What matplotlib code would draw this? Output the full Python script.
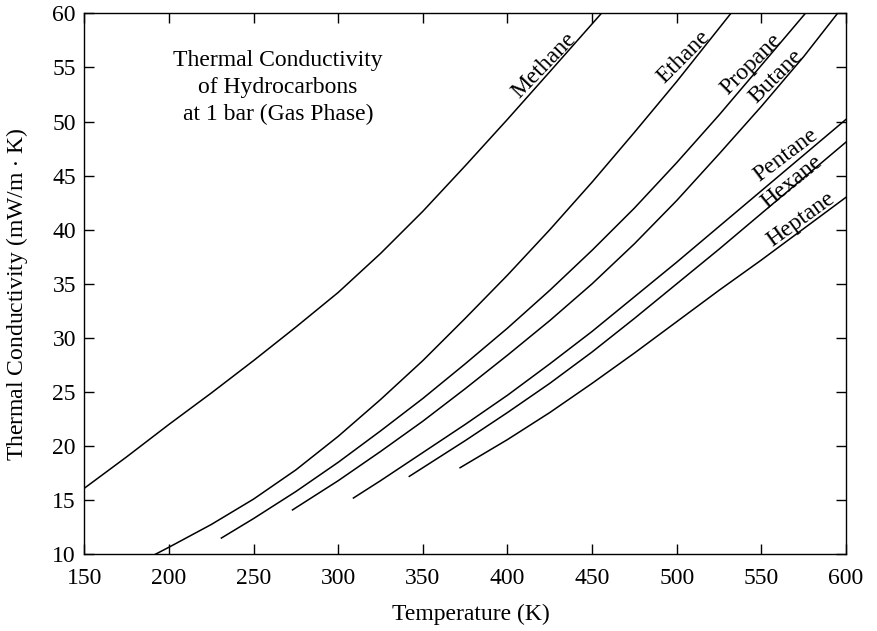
import matplotlib
matplotlib.use("Agg")
import matplotlib.pyplot as plt
import numpy as np

plt.rcParams['font.family'] = ['Liberation Serif', 'DejaVu Serif']
plt.rcParams['mathtext.fontset'] = 'stix'

# thermal conductivity (mW/m.K) vs temperature (K)
methane_T = [150, 175, 200, 225, 250, 275, 300, 325, 350, 375, 400, 425, 455.5]
methane_k = [16.1, 19.0, 22.0, 24.9, 27.9, 31.0, 34.2, 37.8, 41.7, 45.9, 50.2, 54.6, 60.0]

ethane_T = [192, 200, 225, 250, 275, 300, 325, 350, 375, 400, 425, 450, 475, 500, 532]
ethane_k = [10.0, 10.65, 12.75, 15.1, 17.8, 20.9, 24.3, 27.9, 31.8, 35.8, 40.0, 44.4, 49.0, 53.7, 60.0]

propane_T = [231, 250, 275, 300, 325, 350, 375, 400, 425, 450, 475, 500, 525, 550, 576]
propane_k = [11.5, 13.3, 15.8, 18.5, 21.4, 24.4, 27.6, 30.9, 34.4, 38.1, 42.0, 46.2, 50.6, 55.2, 60.0]

butane_T = [273, 300, 325, 350, 375, 400, 425, 450, 475, 500, 525, 550, 575, 595]
butane_k = [14.1, 16.8, 19.5, 22.3, 25.3, 28.4, 31.6, 35.0, 38.7, 42.7, 47.0, 51.4, 56.0, 60.0]

pentane_T = [309, 325, 350, 375, 400, 425, 450, 475, 500, 525, 550, 575, 600]
pentane_k = [15.2, 16.8, 19.4, 22.0, 24.7, 27.6, 30.6, 33.8, 37.0, 40.3, 43.6, 46.9, 50.2]

hexane_T = [342, 350, 375, 400, 425, 450, 475, 500, 525, 550, 575, 600]
hexane_k = [17.2, 18.0, 20.5, 23.1, 25.8, 28.7, 31.8, 35.0, 38.2, 41.5, 44.8, 48.1]

heptane_T = [372, 400, 425, 450, 475, 500, 525, 550, 575, 600]
heptane_k = [18.0, 20.6, 23.1, 25.8, 28.6, 31.5, 34.4, 37.2, 40.1, 43.0]

names = ['Methane', 'Ethane', 'Propane', 'Butane', 'Pentane', 'Hexane', 'Heptane']
curves = [(methane_T, methane_k), (ethane_T, ethane_k), (propane_T, propane_k),
          (butane_T, butane_k), (pentane_T, pentane_k), (hexane_T, hexane_k),
          (heptane_T, heptane_k)]
# label placement (T, k, angle)
label_pos = [(421.5, 55.2, 46), (503.9, 56.0, 45), (544.2, 55.3, 45), (558.4, 54.2, 45),
             (564.3, 46.9, 37), (567.8, 44.4, 39), (573.1, 40.95, 36)]

fig = plt.figure(figsize=(8.77, 6.31), dpi=100)
ax = fig.add_axes([0.0961, 0.1216, 0.8686, 0.8573])

for (T, k), name, (lx, ly, ang) in zip(curves, names, label_pos):
    ax.plot(T, k, color='black', lw=1.1)
    ax.text(lx, ly, name, rotation=ang, rotation_mode='anchor',
            ha='center', va='center', fontsize=17)

ax.text(264.4, 53.1, 'Thermal Conductivity\nof Hydrocarbons\nat 1 bar (Gas Phase)',
        ha='center', va='center', fontsize=17, linespacing=1.37)

ax.set_xlim(150, 600)
ax.set_ylim(10, 60)
ax.set_xticks(np.arange(150, 601, 50))
ax.set_yticks(np.arange(10, 61, 5))
ax.tick_params(direction='in', length=7, width=1, top=True, right=True, labelsize=17)
ax.tick_params(axis='x', pad=10)
ax.tick_params(axis='y', pad=6)
for s in ax.spines.values():
    s.set_linewidth(1)

ax.set_xlabel('Temperature (K)', fontsize=17)
ax.set_ylabel('Thermal Conductivity (mW/m $\\cdot$ K)', fontsize=17)
ax.xaxis.set_label_coords(0.507, -0.092)
ax.yaxis.set_label_coords(-0.0715, 0.481)

fig.savefig('out.png', dpi=100)
